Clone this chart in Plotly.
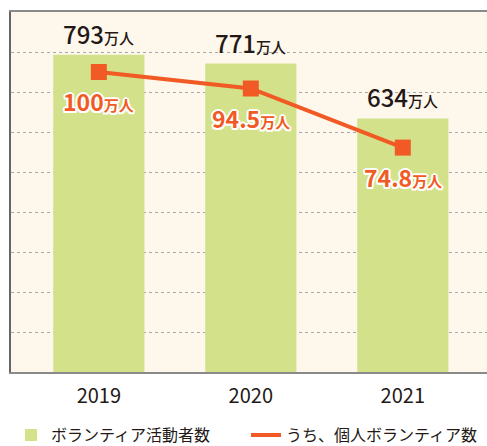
import plotly.graph_objects as go

years = ["2019", "2020", "2021"]
volunteers = [793, 771, 634]          # ボランティア活動者数（万人）
individual = [100, 94.5, 74.8]        # うち、個人ボランティア数（万人）
unit = "万人"

FONT = "Noto Sans CJK JP"
GREEN = "#D3E18A"
ORANGE = "#F15A24"
DARK = "#231815"
CREAM = "#FEF7EC"

fig = go.Figure()
fig.add_trace(go.Bar(
    x=years, y=volunteers, name="ボランティア活動者数",
    marker=dict(color=GREEN, line=dict(width=0)), width=0.6,
))
fig.add_trace(go.Scatter(
    x=years, y=individual, name="うち、個人ボランティア数", yaxis="y2",
    mode="lines", line=dict(color=ORANGE, width=4),
))
fig.add_trace(go.Scatter(
    x=years, y=individual, yaxis="y2", showlegend=False,
    mode="markers", marker=dict(symbol="square", size=16, color=ORANGE),
))

white_outline = ", ".join(
    f"{dx}px {dy}px 0 #fff" for dx, dy in
    [(-1.5, -1.5), (1.5, -1.5), (-1.5, 1.5), (1.5, 1.5), (0, 2), (0, -2), (2, 0), (-2, 0)]
)

annotations = []
for i, v in enumerate(volunteers):
    annotations.append(dict(
        x=i, y=v, xref="x", yref="y", showarrow=False,
        text=f"{v}<span style='font-size:15px'>{unit}</span>",
        yanchor="bottom", yshift=2,
        font=dict(family=FONT, size=24, color=DARK, weight=500),
    ))
for i, v in enumerate(individual):
    annotations.append(dict(
        x=i, y=v, xref="x", yref="y2", showarrow=False,
        text=f"<b>{v:g}</b><span style='font-size:15px'><b>{unit}</b></span>",
        yanchor="middle", yshift=-29,
        font=dict(family=FONT, size=23, color=ORANGE, shadow=white_outline),
    ))

fig.update_layout(
    width=487, height=446,
    margin=dict(l=11, r=0, t=12, b=74, autoexpand=False),
    paper_bgcolor="white", plot_bgcolor=CREAM,
    font=dict(family=FONT, color=DARK),
    showlegend=True,
    legend=dict(
        orientation="h", x=0, xanchor="left",
        y=-0.128, yanchor="top",
        font=dict(family=FONT, size=16, color=DARK),
        entrywidth=190, traceorder="normal",
        bgcolor="rgba(0,0,0,0)",
    ),
    xaxis=dict(
        type="category", range=[-0.578, 2.554],
        showline=True, linecolor="#8a8a8a", linewidth=2, mirror=True,
        showgrid=False, ticks="", tickfont=dict(family=FONT, size=20, color=DARK),
        ticklabelstandoff=5,
    ),
    yaxis=dict(
        range=[0, 900], dtick=100, showticklabels=False, ticks="",
        showgrid=True, gridcolor="#A8A8A8", gridwidth=1, griddash="dot",
        zeroline=False, showline=True, linecolor="#666666", linewidth=1.5,
    ),
    yaxis2=dict(
        range=[0, 120], overlaying="y", side="right", visible=False,
    ),
    annotations=annotations,
    bargap=0.4,
)

fig.write_html("out.html")
